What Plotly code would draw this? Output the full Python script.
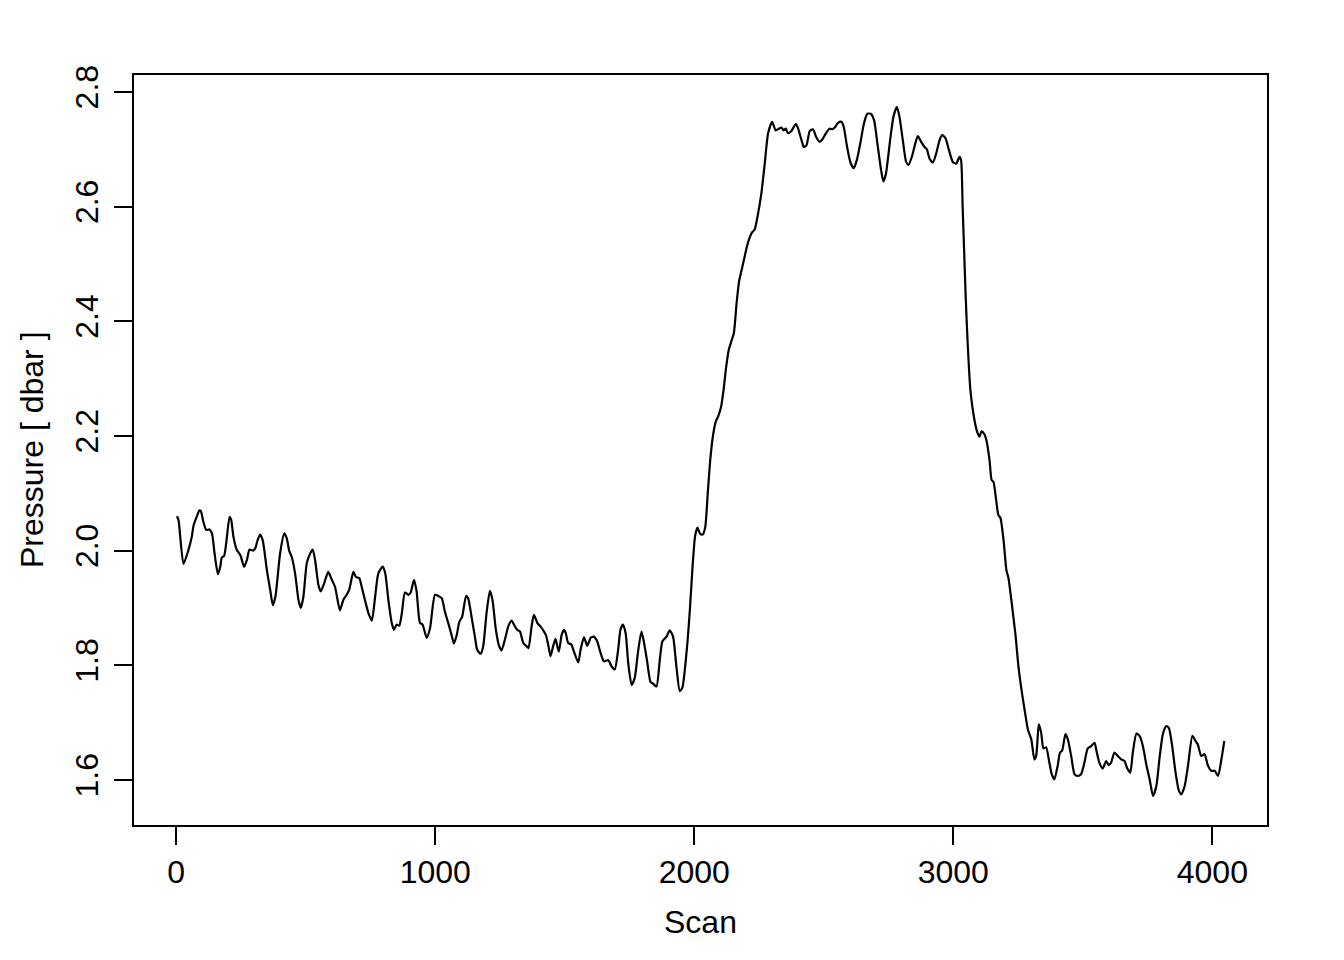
import plotly.graph_objects as go

scan = [3, 9, 28, 47, 60, 67, 80, 89, 95, 105, 116, 128, 138, 148, 161, 170, 176, 185, 193, 206,
        212, 221, 234, 244, 250, 262, 273, 283, 296, 305, 314, 324, 334, 350, 363, 373, 383, 401, 417, 427,
        436, 446, 459, 472, 481, 491,
        504, 517, 527, 536, 549, 558, 571, 587, 600, 613, 632, 645, 658, 668, 684, 694, 707, 716, 729, 742,
        755, 768, 780, 797, 807, 819, 832, 841, 851, 861, 871, 883, 896, 905, 918, 928, 941, 951, 967, 980,
        999,
        1012, 1025, 1037, 1050, 1063, 1072, 1083, 1093, 1104, 1119, 1127, 1140, 1153, 1162, 1175, 1185, 1198,
        1211, 1221, 1234, 1247, 1256, 1269, 1282, 1295, 1304, 1316, 1327, 1340, 1353, 1360, 1372, 1381, 1394,
        1411, 1427, 1436, 1445, 1455, 1464, 1477, 1488,
        1497, 1504, 1513, 1526, 1533, 1552, 1561, 1574, 1587, 1600, 1612, 1625, 1638, 1651, 1668, 1681, 1693,
        1706, 1715, 1725, 1735, 1745, 1758, 1770, 1783, 1796, 1805, 1818, 1831, 1841, 1854, 1867, 1877, 1893,
        1905, 1918, 1931, 1944, 1954, 1970, 1983,
        1993, 2003, 2012, 2022, 2032, 2042, 2052, 2062, 2072, 2083, 2093, 2103, 2113, 2123, 2133, 2143, 2153,
        2163, 2173, 2183, 2193, 2203, 2213, 2223, 2233, 2243,
        2259, 2272, 2285, 2301, 2314, 2327, 2336, 2345, 2353, 2362, 2375, 2392, 2401, 2414, 2423, 2433, 2446,
        2458, 2471, 2484, 2494, 2507, 2522, 2533, 2542, 2555, 2568, 2577, 2590, 2603, 2616, 2629, 2642, 2655,
        2668, 2681, 2694, 2707, 2720, 2730, 2740, 2756, 2769, 2782,
        2792, 2805, 2818, 2827, 2840, 2853, 2863, 2876, 2889, 2898, 2908, 2921, 2934, 2947, 2957, 2970, 2983,
        2998, 3011, 3024, 3030,
        3036, 3042, 3048, 3055, 3066, 3082, 3093, 3101, 3109, 3120, 3128, 3140, 3148, 3155, 3163, 3174, 3182,
        3194, 3205, 3213, 3224, 3240, 3251, 3263,
        3275, 3288, 3301, 3313, 3320, 3330, 3339, 3348, 3358, 3371, 3380, 3390, 3403, 3412, 3420, 3433, 3442,
        3455, 3468, 3480, 3493, 3506, 3519, 3532, 3545, 3554, 3564, 3577, 3590, 3600, 3609, 3622, 3635, 3648,
        3661, 3670, 3683, 3693, 3707, 3719, 3732, 3745, 3758, 3771, 3784, 3797, 3809, 3822, 3832, 3845, 3858,
        3871, 3880, 3893, 3906, 3923, 3935, 3944, 3957, 3970, 3983, 3996, 4009, 4022, 4035, 4046]

pressure = [2.060, 2.053, 1.977, 2.001, 2.024, 2.044, 2.060, 2.070, 2.069, 2.050, 2.036, 2.037, 2.030, 1.995,
            1.959, 1.972, 1.988, 1.991, 2.013, 2.059, 2.054, 2.024, 2.001, 1.995, 1.989, 1.972, 1.984, 2.002,
            2.000, 2.004, 2.018, 2.028, 2.018, 1.966, 1.931, 1.905, 1.920, 1.995, 2.030, 2.021, 2.000, 1.989,
            1.960, 1.914, 1.900, 1.920,
            1.978, 1.995, 2.002, 1.984, 1.940, 1.929, 1.943, 1.963, 1.950, 1.937, 1.896, 1.914, 1.923, 1.932,
            1.963, 1.954, 1.952, 1.937, 1.913, 1.891, 1.878, 1.920, 1.960, 1.972, 1.960, 1.914, 1.874, 1.862,
            1.871, 1.869, 1.891, 1.927, 1.923, 1.927, 1.949, 1.929, 1.874, 1.871, 1.848, 1.865, 1.923,
            1.921, 1.917, 1.894, 1.874, 1.853, 1.838, 1.853, 1.876, 1.885, 1.921, 1.917, 1.885, 1.850, 1.827,
            1.820, 1.833, 1.891, 1.930, 1.914, 1.862, 1.833, 1.826, 1.845, 1.868, 1.878, 1.871, 1.862, 1.859,
            1.839, 1.833, 1.830, 1.868, 1.888, 1.874, 1.865, 1.853, 1.836, 1.816, 1.833, 1.846, 1.824, 1.853,
            1.862, 1.856, 1.839, 1.836, 1.827, 1.805, 1.827, 1.849, 1.834, 1.848, 1.850, 1.842, 1.822, 1.807,
            1.809, 1.798, 1.793, 1.827, 1.862, 1.871, 1.856, 1.804, 1.766, 1.778, 1.824, 1.859, 1.842, 1.807,
            1.771, 1.768, 1.763, 1.810, 1.842, 1.850, 1.861, 1.850, 1.798, 1.755, 1.761, 1.822, 1.897,
            1.970, 2.025, 2.040, 2.030, 2.028, 2.040, 2.100, 2.160, 2.200, 2.225, 2.235, 2.250, 2.280, 2.320,
            2.350, 2.365, 2.380, 2.430, 2.470, 2.490, 2.510, 2.530, 2.545, 2.555, 2.560, 2.580,
            2.623, 2.675, 2.728, 2.748, 2.733, 2.736, 2.738, 2.733, 2.736, 2.728, 2.732, 2.744, 2.736, 2.716,
            2.704, 2.707, 2.732, 2.735, 2.721, 2.713, 2.717, 2.727, 2.736, 2.735, 2.738, 2.746, 2.748, 2.739,
            2.704, 2.677, 2.667, 2.684, 2.713, 2.745, 2.762, 2.762, 2.751, 2.710, 2.667, 2.644, 2.658, 2.716,
            2.757, 2.774,
            2.757, 2.716, 2.678, 2.673, 2.687, 2.710, 2.723, 2.713, 2.704, 2.700, 2.684, 2.677, 2.693, 2.716,
            2.725, 2.719, 2.699, 2.678, 2.675, 2.687, 2.681,
            2.600, 2.520, 2.440, 2.366, 2.280, 2.227, 2.206, 2.199, 2.208, 2.203, 2.192, 2.157, 2.123, 2.120,
            2.097, 2.062, 2.057, 2.018, 1.966, 1.952, 1.914, 1.853, 1.800, 1.758,
            1.723, 1.688, 1.671, 1.636, 1.642, 1.697, 1.683, 1.655, 1.657, 1.630, 1.610, 1.601, 1.625, 1.648,
            1.651, 1.680, 1.671, 1.642, 1.610, 1.607, 1.610, 1.630, 1.655, 1.659, 1.665, 1.648, 1.630, 1.620,
            1.633, 1.626, 1.630, 1.648, 1.642, 1.636, 1.633, 1.622, 1.613, 1.648, 1.681, 1.677, 1.659, 1.627,
            1.601, 1.572, 1.590, 1.642, 1.680, 1.694, 1.691, 1.659, 1.613, 1.581, 1.575, 1.589, 1.625, 1.677,
            1.668, 1.662, 1.642, 1.645, 1.625, 1.616, 1.616, 1.607, 1.636, 1.668]

x_ticks = [0, 1000, 2000, 3000, 4000]
y_ticks = [1.6, 1.8, 2.0, 2.2, 2.4, 2.6, 2.8]
y_tick_labels = ["1.6", "1.8", "2.0", "2.2", "2.4", "2.6", "2.8"]
x_title = "Scan"
y_title = "Pressure [ dbar ]"

FONT = "Liberation Sans, Arial, Helvetica, sans-serif"
FSIZE = 32

fig = go.Figure()
fig.add_trace(go.Scatter(
    x=scan, y=pressure, mode="lines",
    line=dict(color="black", width=2.2, shape="spline", smoothing=0.6),
    hoverinfo="skip", showlegend=False,
))

axis_common = dict(
    showgrid=False, zeroline=False,
    showline=True, linecolor="black", linewidth=2, mirror=True,
    ticks="outside", ticklen=18, tickwidth=2, tickcolor="black",
    tickfont=dict(family=FONT, size=FSIZE, color="black"),
)

fig.update_xaxes(range=[-163, 4211], tickvals=x_ticks,
                 ticktext=[str(v) for v in x_ticks], ticklabelstandoff=0, **axis_common)
fig.update_yaxes(range=[1.5215, 2.8296], tickvals=y_ticks, ticktext=y_tick_labels,
                 tickangle=-90, ticklabelstandoff=3, **axis_common)

fig.add_annotation(text=x_title, xref="paper", yref="paper", x=0.5, y=0,
                   xanchor="center", yanchor="middle", yshift=-97, showarrow=False,
                   font=dict(family=FONT, size=FSIZE, color="black"))
fig.add_annotation(text=y_title, xref="paper", yref="paper", x=0, y=0.5,
                   xanchor="center", yanchor="middle", xshift=-102, textangle=-90, showarrow=False,
                   font=dict(family=FONT, size=FSIZE, color="black"))

fig.update_layout(
    width=1344, height=960,
    margin=dict(l=126, r=85, t=67, b=143),
    paper_bgcolor="white", plot_bgcolor="white",
)

fig.write_html("out.html")
